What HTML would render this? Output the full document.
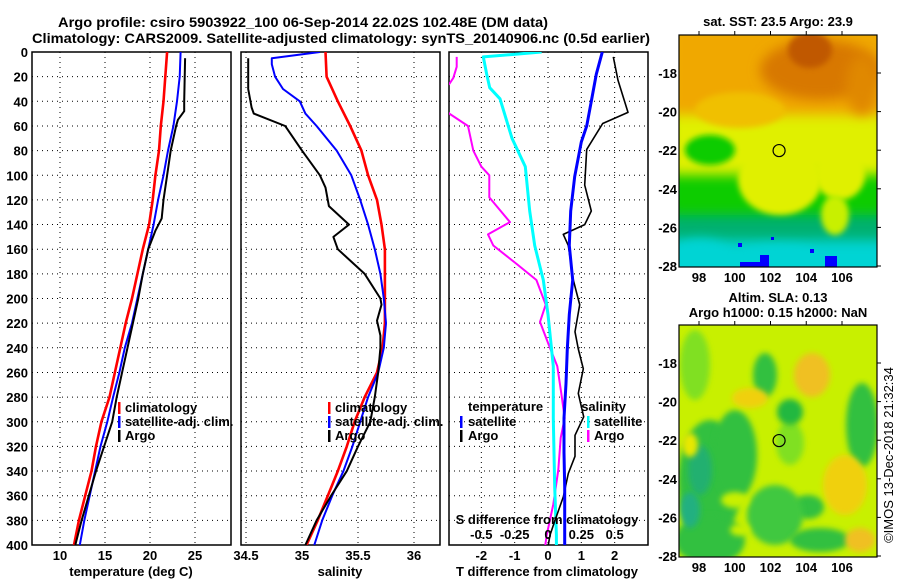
<!DOCTYPE html>
<html><head><meta charset="utf-8"><style>
html,body{margin:0;padding:0;background:#fff;}
svg{display:block;font-family:"Liberation Sans",Arial,sans-serif;font-weight:bold;}
</style></head><body>
<svg id="chart" width="900" height="580" viewBox="0 0 900 580" xmlns="http://www.w3.org/2000/svg">
<defs>
<clipPath id="c1"><rect x="32" y="52" width="199" height="493"/></clipPath>
<clipPath id="c2"><rect x="241" y="52" width="199" height="493"/></clipPath>
<clipPath id="c3"><rect x="449" y="52" width="199" height="493"/></clipPath>
<clipPath id="cm1"><rect x="679" y="35" width="198" height="232"/></clipPath>
<clipPath id="cm2"><rect x="679" y="325" width="198" height="232"/></clipPath>
<filter id="bl" x="-50%" y="-50%" width="200%" height="200%"><feGaussianBlur stdDeviation="6"/></filter>
<filter id="bl2" x="-50%" y="-50%" width="200%" height="200%"><feGaussianBlur stdDeviation="3"/></filter>
</defs>
<text x="303" y="27" font-size="14" text-anchor="middle" textLength="490" lengthAdjust="spacingAndGlyphs">Argo profile: csiro 5903922_100 06-Sep-2014 22.02S 102.48E (DM data)</text>
<text x="341" y="43" font-size="14" text-anchor="middle" textLength="618" lengthAdjust="spacingAndGlyphs">Climatology: CARS2009. Satellite-adjusted climatology: synTS_20140906.nc (0.5d earlier)</text>
<g id="panels"></g>
<g id="maps"></g>
</svg>
<script>
// ---- data ----
const tDepth = [0,20,40,60,80,100,120,140,160,180,200,220,240,260,280,300,320,340,360,380,400];
const tClim  = [21.9,21.7,21.5,21.2,21.0,20.6,20.3,19.9,19.2,18.6,18.0,17.3,16.7,16.1,15.5,14.6,14.0,13.5,12.8,12.1,11.55];
const tSat   = [23.4,23.3,23.0,22.6,22.0,21.5,20.9,20.4,19.8,19.2,18.6,18.0,17.2,16.6,15.9,15.25,14.5,13.9,13.3,12.7,12.2];
const argoTDepth = [5,40,48,55,60,80,100,120,135,145,160,180,200,220,240,260,280,300,320,340,360,380,400];
const argoT  = [23.9,23.8,23.8,23.1,22.9,22.3,21.9,21.5,21.3,20.6,19.8,19.2,18.7,18.1,17.5,16.9,16.3,15.8,14.9,14.0,13.2,12.4,11.7];
const sDepth = [0,20,30,40,60,80,100,120,140,160,180,200,220,240,260,280,300,320,340,360,380,400];
const sClim  = [35.21,35.22,35.27,35.32,35.43,35.53,35.59,35.67,35.71,35.74,35.74,35.74,35.74,35.72,35.67,35.56,35.47,35.40,35.32,35.23,35.14,35.04];
const sSatDepth = [0,5,10,20,30,40,50,60,80,100,120,140,160,180,200,220,240,260,280,300,320,340,360,380,400];
const sSat   = [35.16,34.73,34.73,34.76,34.83,34.98,35.03,35.13,35.31,35.44,35.52,35.59,35.65,35.70,35.73,35.75,35.73,35.68,35.59,35.52,35.45,35.37,35.27,35.18,35.11];
const argoSDepth = [5,30,45,50,60,80,100,110,125,140,150,160,180,200,205,218,230,240,260,280,300,320,340,360,380,400];
const argoS  = [34.52,34.52,34.55,34.57,34.85,35.0,35.16,35.21,35.24,35.42,35.28,35.32,35.56,35.70,35.71,35.67,35.70,35.70,35.68,35.65,35.61,35.50,35.40,35.26,35.13,35.03];
const dTSatDepth = [0,18,40,60,73,101,129,157,185,213,241,269,297,325,353,392,400];
const dTSat  = [1.63,1.45,1.30,1.16,1.0,0.80,0.68,0.64,0.74,0.64,0.58,0.54,0.48,0.48,0.50,0.5,0.5];
const dTArgoDepth = [4,23,49,58,79,108,129,140,148,157,185,205,227,241,257,277,296,311,328,342,361,380,392,400];
const dTArgo = [1.96,2.1,2.4,1.64,1.16,1.1,1.30,1.1,0.46,0.61,0.76,0.95,0.81,0.91,1.06,0.91,1.07,0.81,0.81,0.61,0.46,0.21,0.06,0.01];
const dSSatDepth = [0,4,18,29,38,70,93,129,157,185,213,255,297,353,392,400];
const dSSat  = [-0.048,-0.485,-0.46,-0.437,-0.36,-0.27,-0.17,-0.137,-0.1,-0.035,0.0,0.04,0.04,0.05,0.063,0.063];
const dSArgoDepth = [4,12,21,26,35,50,60,80,93,100,118,138,148,157,172,185,205,219,236,255,277,297,313,339,367,392,400];
const dSArgo = [-0.685,-0.685,-0.71,-0.74,-0.9,-0.74,-0.6,-0.56,-0.5,-0.44,-0.44,-0.285,-0.45,-0.41,-0.235,-0.087,-0.017,-0.06,0.0,0.07,0.1,0.125,0.095,0.077,0.04,-0.01,-0.02];
const depthTicks = [0,20,40,60,80,100,120,140,160,180,200,220,240,260,280,300,320,340,360,380,400];
const tTicks = [10,15,20,25];
const sTicks = [34.5,35,35.5,36];
const dTTicks = [-2,-1,0,1,2];
const dSTickLabels = ["-0.5","-0.25","0","0.25","0.5"];
const dSTicks = [-0.5,-0.25,0,0.25,0.5];
const lonTicks = [98,100,102,104,106];
const latTicks = [-18,-20,-22,-24,-26,-28];
const argoLon = 102.48, argoLat = -22.02;

// ---- axes ----
const NS='http://www.w3.org/2000/svg';
const Y0=52, Y1=545;
const yD = d => Y0 + d*(Y1-Y0)/400;
const xT = v => 60 + (v-10)*9;
const xS = v => 246 + (v-34.5)*112;
const xDT = v => 548 + v*33.33;
const xDS = v => 548 + v*133.33;
const mx = lon => 699 + (lon-98)*17.875;
const my1 = lat => 73 + (-18-lat)*19.3;
const my2 = lat => 363 + (-18-lat)*19.3;
function mk(tag,attrs,parent){const e=document.createElementNS(NS,tag);for(const k in attrs)e.setAttribute(k,attrs[k]);parent.appendChild(e);return e;}
const P=document.getElementById('panels');

function line(xs,ds,fx,color,w,clip,name){
  const pts=xs.map((v,i)=>fx(v).toFixed(1)+','+yD(ds[i]).toFixed(1)).join(' ');
  const e=mk('polyline',{points:pts,fill:'none',stroke:color,'stroke-width':w,'stroke-linejoin':'round','clip-path':'url(#'+clip+')'},P);
  
  
}
function panel(x0,clip,vt,fx,name,showY){
  const g=mk('g',{},P);
  
  
  depthTicks.forEach(d=>{
    if(d>0&&d<400){const l=mk('line',{x1:x0,x2:x0+199,y1:yD(d),y2:yD(d),stroke:'#000','stroke-width':1,'stroke-dasharray':'1,4'},g);
      
      }
    if(showY){const t=mk('text',{x:28,y:yD(d)+5,'font-size':13,'text-anchor':'end'},g);t.textContent=d;
      
      }
  });
  vt.forEach(v=>{
    const l=mk('line',{x1:fx(v),x2:fx(v),y1:Y0,y2:Y1,stroke:'#000','stroke-width':1,'stroke-dasharray':'1,4'},g);
    
    
  });
  const r=mk('rect',{x:x0,y:Y0,width:199,height:Y1-Y0,fill:'none',stroke:'#000','stroke-width':1.5},g);
  
  
  return g;
}
function txt(x,y,s,size,anchor,name,color){
  const t=mk('text',{x:x,y:y,'font-size':size,'text-anchor':anchor||'start',fill:color||'#000'},P);t.textContent=s;
  
  
  return t;
}
function bar(x,y,color){
  const r=mk('rect',{x:x,y:y-10,width:2.5,height:12,fill:color},P);
  
  
}

// panel 1 temperature
panel(32,'c1',tTicks,xT,'temperature-panel',true);
line(tClim,tDepth,xT,'#ff0000',2.6,'c1','temperature-climatology-line');
line(tSat,tDepth,xT,'#0000ff',2,'c1','temperature-satellite-line');
line(argoT,argoTDepth,xT,'#000',2,'c1','temperature-argo-line');
tTicks.forEach(v=>txt(xT(v),560,String(v),13,'middle','temperature-tick-label'));
txt(131,576,'temperature (deg C)',13,'middle','temperature-axis-title');
bar(118,412,'#f00');txt(125,412,'climatology',13,'start','legend-climatology');
bar(118,426,'#00f');txt(125,426,'satellite-adj. clim.',13,'start','legend-satellite-adj');
bar(118,440,'#000');txt(125,440,'Argo',13,'start','legend-argo');

// panel 2 salinity
panel(241,'c2',sTicks,xS,'salinity-panel',false);
line(sClim,sDepth,xS,'#ff0000',2.6,'c2','salinity-climatology-line');
line(sSat,sSatDepth,xS,'#0000ff',2,'c2','salinity-satellite-line');
line(argoS,argoSDepth,xS,'#000',2,'c2','salinity-argo-line');
sTicks.forEach(v=>txt(xS(v),560,String(v),13,'middle','salinity-tick-label'));
txt(340,576,'salinity',13,'middle','salinity-axis-title');
bar(328,412,'#f00');txt(335,412,'climatology',13,'start','legend-climatology');
bar(328,426,'#00f');txt(335,426,'satellite-adj. clim.',13,'start','legend-satellite-adj');
bar(328,440,'#000');txt(335,440,'Argo',13,'start','legend-argo');

// panel 3 differences
panel(449,'c3',dTTicks,xDT,'difference-panel',false);
line(dSArgo,dSArgoDepth,xDS,'#ff00ff',2,'c3','salinity-argo-diff-line');
line(dSSat,dSSatDepth,xDS,'#00ffff',3,'c3','salinity-satellite-diff-line');
line(dTArgo,dTArgoDepth,xDT,'#000',1.6,'c3','temperature-argo-diff-line');
line(dTSat,dTSatDepth,xDT,'#0000ff',3,'c3','temperature-satellite-diff-line');
dTTicks.forEach(v=>txt(xDT(v),560,String(v),13,'middle','t-diff-tick-label'));
txt(547,576,'T difference from climatology',13,'middle','t-diff-axis-title');
dSTicks.forEach((v,i)=>txt(xDS(v),539,dSTickLabels[i],13,'middle','s-diff-tick-label'));
txt(547,524,'S difference from climatology',13,'middle','s-diff-axis-title');
txt(468,411,'temperature',13,'start','legend-temperature-heading');
bar(460,426,'#00f');txt(468,426,'satellite',13,'start','legend-t-satellite');
bar(460,440,'#000');txt(468,440,'Argo',13,'start','legend-t-argo');
txt(626,411,'salinity',13,'end','legend-salinity-heading');
bar(587,426,'#0ff');txt(594,426,'satellite',13,'start','legend-s-satellite');
bar(587,440,'#f0f');txt(594,440,'Argo',13,'start','legend-s-argo');

// ---- maps ----
const M=document.getElementById('maps');
function blob(g,cx,cy,rx,ry,c,f){mk('ellipse',{cx:cx,cy:cy,rx:rx,ry:ry,fill:c,filter:'url(#'+(f||'bl')+')'},g);}
function mapFrame(name){
  const g=mk('g',{},M);
  
  
  return g;
}
// map1 SST
const g1=mapFrame('sst-map');
const i1=mk('g',{'clip-path':'url(#cm1)'},g1);
mk('rect',{x:679,y:35,width:198,height:232,fill:'#00d4d4'},i1);
mk('rect',{x:669,y:25,width:218,height:215,fill:'#00b070',filter:'url(#bl)'},i1);
blob(i1,700,260,30,20,'#00d4d4');
blob(i1,780,262,40,15,'#00d4d4');
mk('rect',{x:669,y:25,width:218,height:190,fill:'#10cc00',filter:'url(#bl)'},i1);
mk('rect',{x:669,y:25,width:218,height:150,fill:'#e0f000',filter:'url(#bl)'},i1);
blob(i1,780,180,42,35,'#e0f000','bl2');
blob(i1,840,175,25,25,'#e0f000','bl2');
blob(i1,835,215,14,20,'#c8f000','bl2');
blob(i1,710,150,25,15,'#10cc00','bl2');
mk('rect',{x:669,y:25,width:218,height:90,fill:'#f0a800',filter:'url(#bl)'},i1);
blob(i1,740,110,45,18,'#f0c000','bl2');
blob(i1,820,70,60,30,'#d87800');
blob(i1,810,50,22,18,'#c05800','bl2');
blob(i1,862,85,16,30,'#e08800');
mk('rect',{x:760,y:255,width:9,height:12,fill:'#0000ff'},i1);
mk('rect',{x:740,y:262,width:22,height:5,fill:'#0000ff'},i1);
mk('rect',{x:825,y:256,width:12,height:11,fill:'#0000ff'},i1);
mk('rect',{x:738,y:243,width:4,height:4,fill:'#0000ff'},i1);
mk('rect',{x:771,y:237,width:3,height:3,fill:'#0000ff'},i1);
mk('rect',{x:810,y:249,width:4,height:4,fill:'#0000ff'},i1);
// map2 SLA
const g2=mapFrame('sla-map');
const i2=mk('g',{'clip-path':'url(#cm2)'},g2);
mk('rect',{x:679,y:325,width:198,height:232,fill:'#c8f000'},i2);
blob(i2,710,480,32,60,'#30c040','bl2');
blob(i2,735,455,22,45,'#30c040','bl2');
blob(i2,710,540,35,25,'#30c040','bl2');
blob(i2,700,470,12,25,'#20b070','bl2');
blob(i2,690,510,10,18,'#20b080','bl2');
blob(i2,765,375,12,22,'#30c040','bl2');
blob(i2,790,443,14,22,'#80e020','bl2');
blob(i2,790,412,13,13,'#20b840','bl2');
blob(i2,808,507,16,12,'#30c040','bl2');
blob(i2,775,515,28,30,'#40c840','bl2');
blob(i2,820,540,30,12,'#30c040','bl2');
blob(i2,862,425,16,42,'#30c040','bl2');
blob(i2,695,365,15,35,'#80e020','bl2');
blob(i2,812,375,18,22,'#f0c020','bl2');
blob(i2,750,398,18,10,'#f0d010','bl2');
blob(i2,845,485,22,30,'#f0d010','bl2');
blob(i2,860,540,15,12,'#f0c020','bl2');
blob(i2,735,500,14,8,'#c8f000','bl2');
blob(i2,690,445,8,12,'#e8e800','bl2');
blob(i2,740,530,10,6,'#c8f000','bl2');

function mapAxes(g,top,my){
  const r=mk('rect',{x:679,y:top,width:198,height:232,fill:'none',stroke:'#000','stroke-width':1.2},g);
  
  
  lonTicks.forEach(v=>{
    mk('line',{x1:mx(v),x2:mx(v),y1:top-4,y2:top,stroke:'#000'},g);
    const t=mk('text',{x:mx(v),y:top+232+15,'font-size':13,'text-anchor':'middle'},g);t.textContent=v;
    
    
  });
  latTicks.forEach(v=>{
    mk('line',{x1:877,x2:881,y1:my(v),y2:my(v),stroke:'#000'},g);
    const t=mk('text',{x:677,y:my(v)+5,'font-size':13,'text-anchor':'end'},g);t.textContent=v;
    
    
  });
  const c=mk('circle',{cx:mx(argoLon),cy:my(argoLat),r:6,fill:'none',stroke:'#000','stroke-width':1.2},g);
  
  
}
mapAxes(g1,35,my1);
mapAxes(g2,325,my2);
function mtxt(x,y,s,name,extra){const t=mk('text',Object.assign({x:x,y:y,'font-size':13,'text-anchor':'middle'},extra||{}),M);t.textContent=s;
  
  }
mtxt(778,26,'sat. SST: 23.5 Argo: 23.9','sst-map-title');
mtxt(778,302,'Altim. SLA: 0.13','sla-map-title-1');
mtxt(778,317,'Argo h1000: 0.15 h2000: NaN','sla-map-title-2');
mtxt(893,455,'©IMOS 13-Dec-2018 21:32:34','copyright-stamp',{transform:'rotate(-90 893 455)','font-weight':'normal'});
</script>
</body></html>
